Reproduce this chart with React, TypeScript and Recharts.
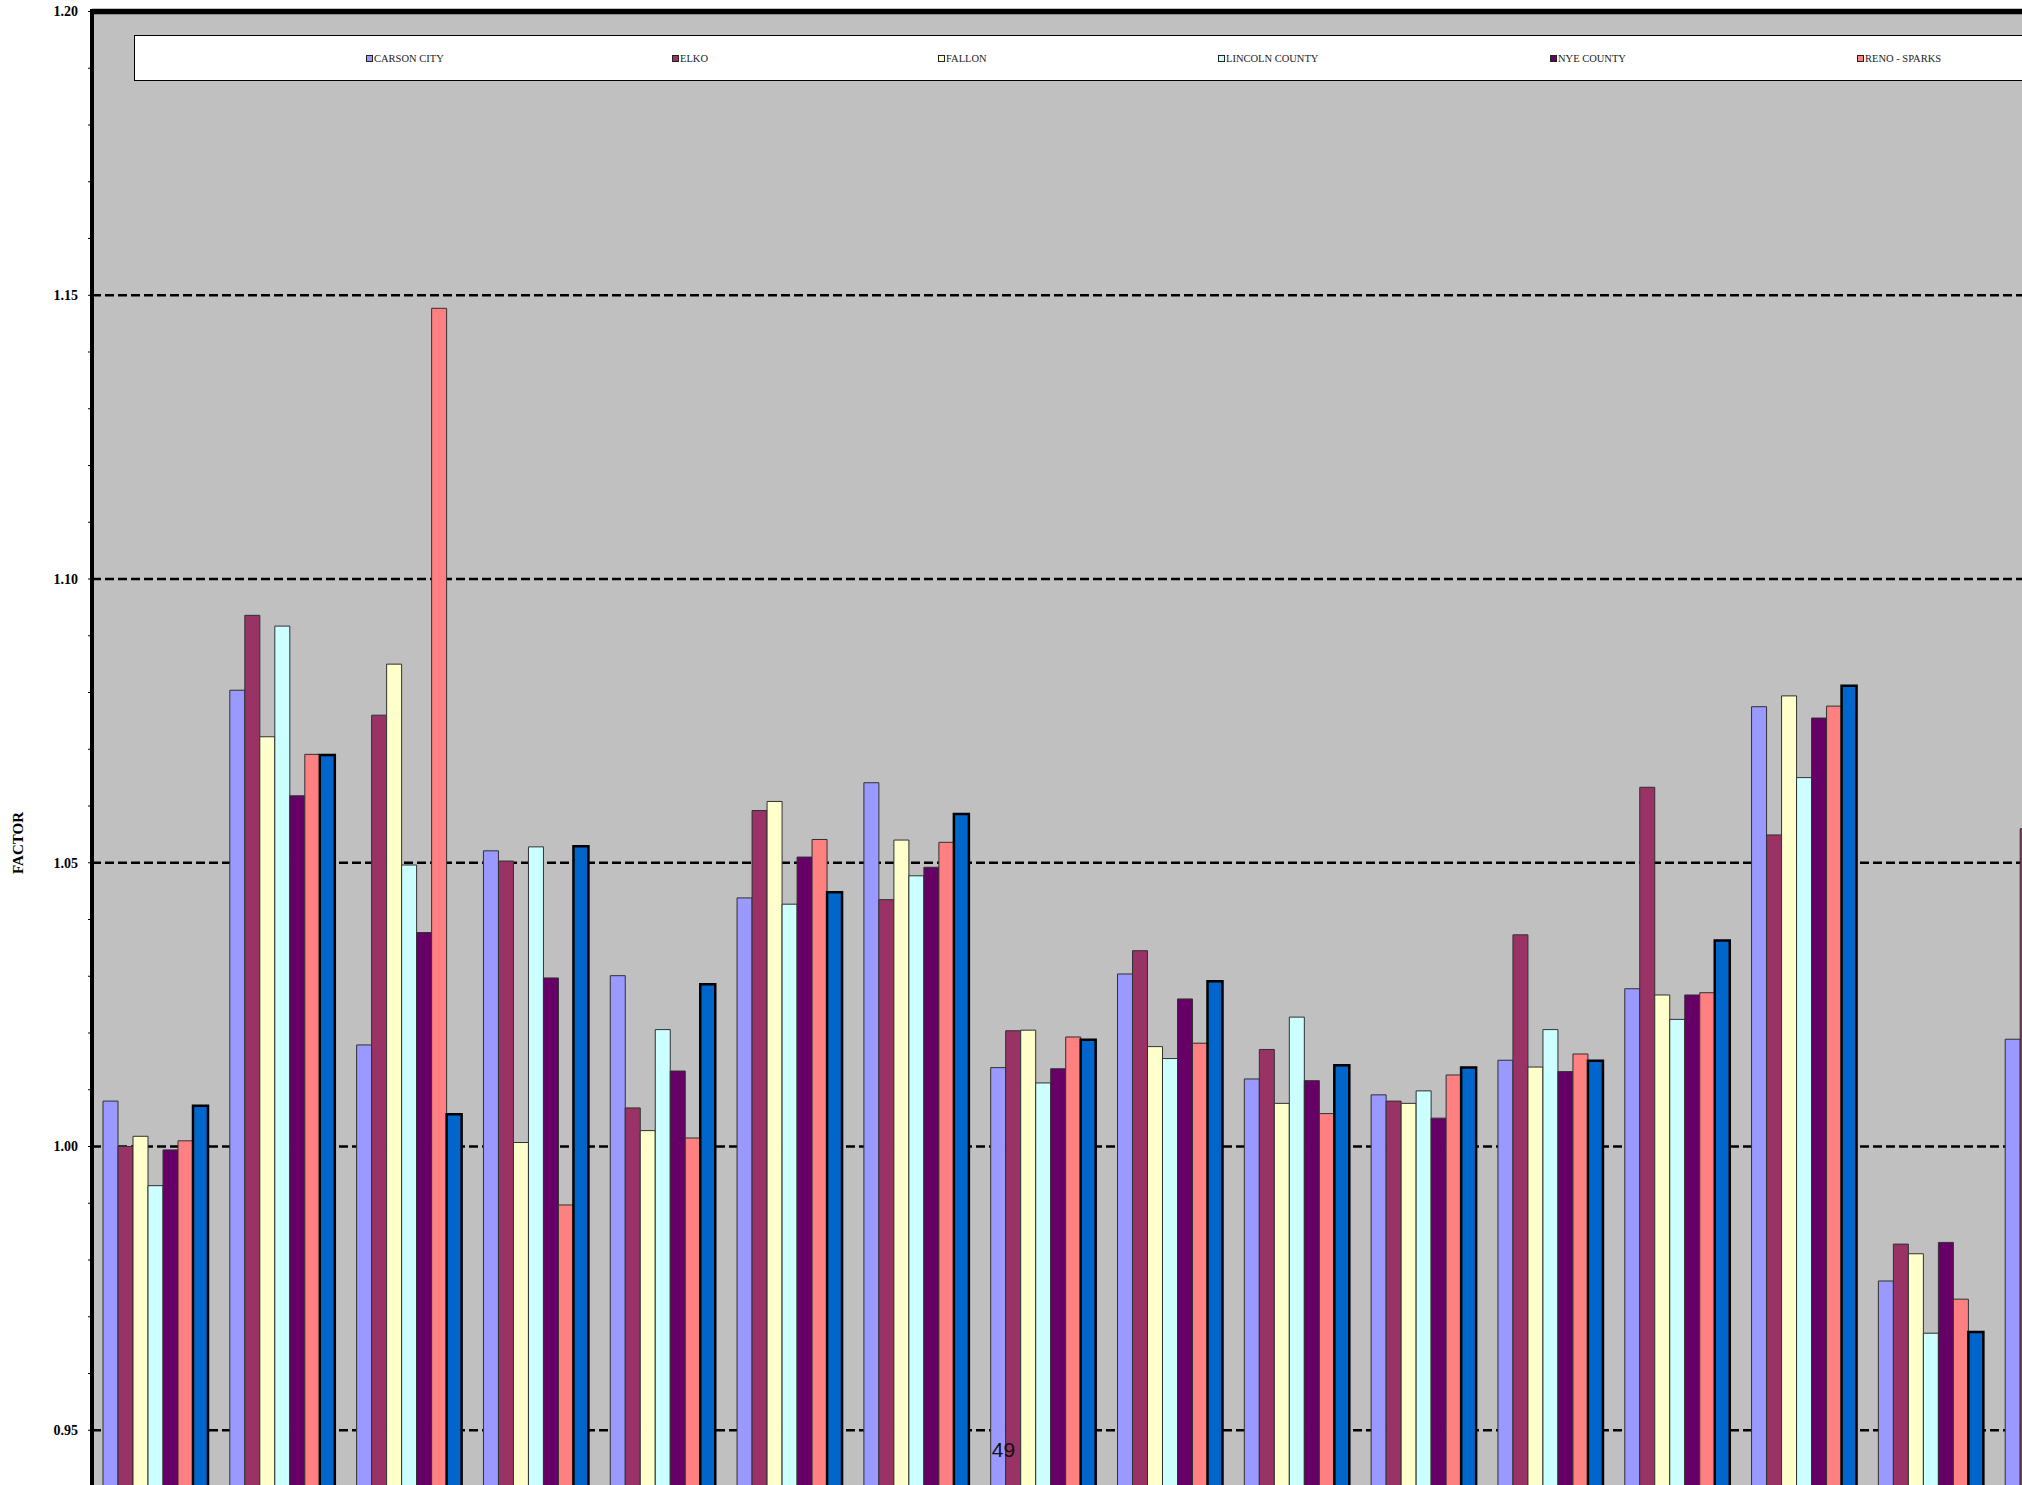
import React from 'react';
import { BarChart, Bar, XAxis, YAxis, CartesianGrid, ReferenceLine } from 'recharts';

const categories = ['1', '2', '3', '4', '5', '6', '7', '8', '9', '10', '11', '12', '13', '14', '15', '16'];

const carsonCity = [1.008, 1.0804, 1.0179, 1.0521, 1.0301, 1.0438, 1.0641, 1.0139, 1.0304, 1.0119, 1.0091, 1.0152, 1.0278, 1.0775, 0.9763, 1.0189];
const elko = [1.0, 1.0936, 1.076, 1.0503, 1.0068, 1.0592, 1.0435, 1.0204, 1.0345, 1.0171, 1.008, 1.0373, 1.0633, 1.0549, 0.9828, 1.056];
const fallon = [1.0018, 1.0722, 1.085, 1.0007, 1.0028, 1.0608, 1.054, 1.0205, 1.0176, 1.0076, 1.0076, 1.014, 1.0267, 1.0794, 0.9811, null];
const lincolnCounty = [0.9931, 1.0917, 1.0496, 1.0528, 1.0206, 1.0427, 1.0477, 1.0112, 1.0155, 1.0228, 1.0098, 1.0206, 1.0224, 1.065, 0.9671, null];
const nyeCounty = [0.9994, 1.0618, 1.0377, 1.0297, 1.0133, 1.051, 1.0492, 1.0137, 1.026, 1.0116, 1.005, 1.0132, 1.0267, 1.0755, 0.9831, null];
const renoSparks = [1.001, 1.0691, 1.1477, 0.9897, 1.0015, 1.0541, 1.0536, 1.0193, 1.0182, 1.0058, 1.0126, 1.0163, 1.0271, 1.0776, 0.9731, null];
// seventh series: its legend entry is off the right edge of the page
const seventh = [1.0072, 1.069, 1.0057, 1.0529, 1.0286, 1.0448, 1.0586, 1.0188, 1.0291, 1.0143, 1.0139, 1.0151, 1.0363, 1.0812, 0.9673, null];

const yTicks = [0.95, 0.96, 0.97, 0.98, 0.99, 1.0, 1.01, 1.02, 1.03, 1.04, 1.05, 1.06, 1.07, 1.08, 1.09, 1.1, 1.11, 1.12, 1.13, 1.14, 1.15, 1.16, 1.17, 1.18, 1.19, 1.2];
const majorTickLabels = ['0.95', '1.00', '1.05', '1.10', '1.15', '1.20'];
const gridValues = [0.95, 1.0, 1.05, 1.1, 1.15];

const series = [
	{ key: 'carson', name: 'CARSON CITY', values: carsonCity, color: '#9999FF', legendX: 366 },
	{ key: 'elko', name: 'ELKO', values: elko, color: '#993366', legendX: 672 },
	{ key: 'fallon', name: 'FALLON', values: fallon, color: '#FFFFCC', legendX: 938 },
	{ key: 'lincoln', name: 'LINCOLN COUNTY', values: lincolnCounty, color: '#CCFFFF', legendX: 1218 },
	{ key: 'nye', name: 'NYE COUNTY', values: nyeCounty, color: '#660066', legendX: 1550 },
	{ key: 'reno', name: 'RENO - SPARKS', values: renoSparks, color: '#FF8080', legendX: 1857 },
];

const data = categories.map((c, i) => {
	const row: Record<string, string | number | null> = { category: c, seventh: seventh[i] };
	series.forEach((s) => (row[s.key] = s.values[i]));
	return row;
});

const serif = "'Liberation Serif', 'Times New Roman', serif";

function AxisTick({ x, y, payload }: any) {
	const label = Number(payload.value).toFixed(2);
	const major = majorTickLabels.includes(label);
	return (
		<g>
			<line x1={x - 4} x2={major ? x + 2 : x - 1} y1={y} y2={y} stroke='#000' strokeWidth={1} />
			{major && (
				<text x={x - 14} y={y} dy='0.35em' textAnchor='end' fontFamily={serif} fontWeight='bold' fontSize={14} fill='#000'>
					{label}
				</text>
			)}
		</g>
	);
}

export default function App() {
	return (
		<div style={{ position: 'fixed', left: 0, top: 0, width: 2022, height: 1485, overflow: 'hidden', background: '#fff' }}>
			<div style={{ position: 'absolute', left: 0, top: 0 }}>
				<BarChart
					width={2121}
					height={1714}
					data={data}
					margin={{ top: 11.5, right: 0, bottom: 0, left: 12 }}
					barSize={15}
					barGap={0}
				>
					<CartesianGrid horizontal={false} vertical={false} fill='#C0C0C0' fillOpacity={1} />
					{gridValues.map((v) => (
						<ReferenceLine key={v} y={v} stroke='#000' strokeWidth={2.5} strokeDasharray='9 4' zIndex={-50} />
					))}
					<XAxis dataKey='category' hide />
					<YAxis
						width={80}
						domain={[0.9, 1.2]}
						ticks={yTicks}
						interval={0}
						tickSize={0}
						tickMargin={0}
						tickLine={false}
						axisLine={{ stroke: '#000', strokeWidth: 4 }}
						tick={<AxisTick />}
						allowDataOverflow
					/>
					{series.map((s) => (
						<Bar key={s.key} dataKey={s.key} name={s.name} fill={s.color} stroke='#303030' strokeWidth={1} isAnimationActive={false} />
					))}
					<Bar dataKey='seventh' fill='#0066CC' stroke='#000' strokeWidth={2.5} isAnimationActive={false} />
					<ReferenceLine y={1.2} stroke='#000' strokeWidth={5.5} />
				</BarChart>
			</div>

			{/* heavy left frame edge of the plot */}
			<div style={{ position: 'absolute', left: 90, top: 9, width: 4, height: 1480, background: '#000' }} />

			{/* legend box, runs off the right edge */}
			<div
				style={{
					position: 'absolute',
					left: 134,
					top: 35,
					width: 1960,
					height: 43.5,
					background: '#fff',
					border: '1.5px solid #000',
				}}
			/>
			{series.map((s) => (
				<div key={s.key} style={{ position: 'absolute', left: s.legendX, top: 51, height: 14, display: 'flex', alignItems: 'center' }}>
					<span style={{ width: 5, height: 5, background: s.color, border: '1px solid #222', marginRight: 1 }} />
					<span style={{ fontFamily: serif, fontSize: 10.5, color: '#222', whiteSpace: 'nowrap' }}>{s.name}</span>
				</div>
			))}

			<svg style={{ position: 'absolute', left: 0, top: 0 }} width={40} height={1000}>
				<text x={0} y={0} transform='translate(17.5 843) rotate(-90)' dy='0.35em' textAnchor='middle' fontFamily={serif} fontWeight='bold' fontSize={15} fill='#000'>
					FACTOR
				</text>
			</svg>

			<div style={{ position: 'absolute', left: 1003.5, top: 1438, transform: 'translateX(-50%)', fontFamily: "'Liberation Sans', Arial, sans-serif", fontSize: 21, color: '#111' }}>
				49
			</div>
		</div>
	);
}
